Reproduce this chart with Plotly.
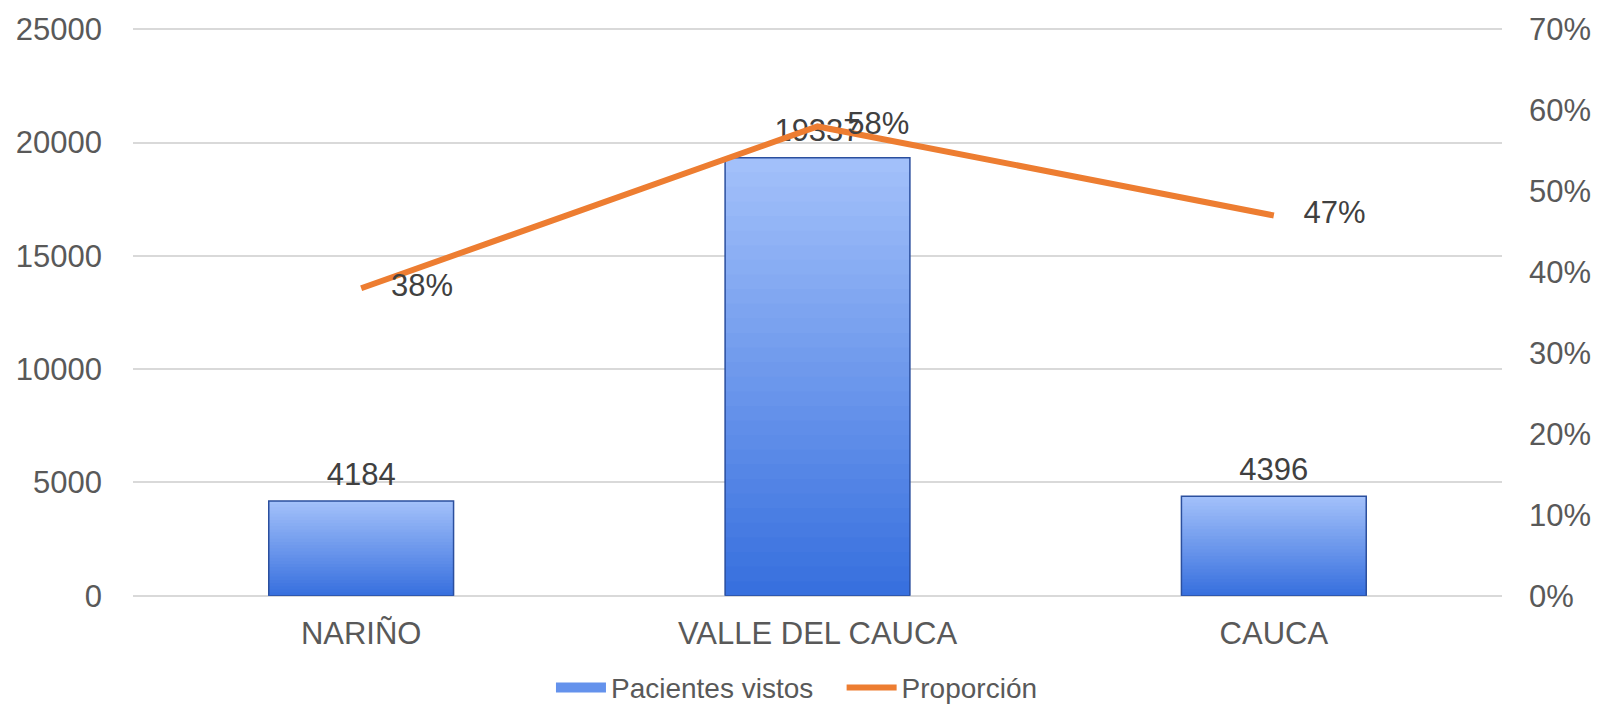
import plotly.graph_objects as go

# Data
departamentos = ["NARIÑO", "VALLE DEL CAUCA", "CAUCA"]
pacientes_vistos = [4184, 19337, 4396]
proporcion = [0.38, 0.58, 0.47]

left_ticks = [0, 5000, 10000, 15000, 20000, 25000]
right_ticks = [0, 0.1, 0.2, 0.3, 0.4, 0.5, 0.6, 0.7]

FONT = "Liberation Sans, Arial, sans-serif"
AXIS_GREY = "#595959"
LABEL_GREY = "#404040"
ORANGE = "#ED7D31"

top_rgb = (162, 192, 250)
bottom_rgb = (56, 112, 222)

fig = go.Figure()

# Vertical gradient inside each bar: stacked overlay layers, tallest (lightest) first
n_layers = 30
for k in range(n_layers):
    frac = 1 - k / n_layers
    t = k / (n_layers - 1)
    r, g, b = (round(top_rgb[i] + (bottom_rgb[i] - top_rgb[i]) * t) for i in range(3))
    fig.add_trace(go.Bar(
        x=departamentos,
        y=[v * frac for v in pacientes_vistos],
        marker=dict(color=f"rgb({r},{g},{b})", line=dict(width=0)),
        width=0.405,
        name="Pacientes vistos",
        showlegend=False,
        legendgroup="pv",
        hoverinfo="skip",
    ))

# Bar outline
fig.add_trace(go.Bar(
    x=departamentos,
    y=pacientes_vistos,
    marker=dict(color="rgba(0,0,0,0)", line=dict(color="#2b4f9e", width=1.5)),
    width=0.405,
    name="Pacientes vistos",
    showlegend=False,
    legendgroup="pv",
))

# Value labels above the bars
fig.add_trace(go.Scatter(
    x=departamentos,
    y=pacientes_vistos,
    mode="markers+text",
    marker=dict(size=12, color="rgba(0,0,0,0)"),
    text=[str(v) for v in pacientes_vistos],
    textposition="top center",
    textfont=dict(family=FONT, size=31, color=LABEL_GREY),
    showlegend=False,
    legendgroup="pv",
    cliponaxis=False,
    hoverinfo="skip",
))

# Legend key for the bar series (wide blue block)
fig.add_trace(go.Scatter(
    x=[None],
    y=[None],
    mode="lines",
    line=dict(color="rgb(100,146,236)", width=14),
    name="Pacientes vistos\u00a0\u00a0\u00a0",
    legendgroup="pv",
))

# Proportion line on the secondary axis
fig.add_trace(go.Scatter(
    x=departamentos,
    y=proporcion,
    yaxis="y2",
    mode="lines+markers+text",
    name="Proporción",
    line=dict(color=ORANGE, width=6),
    marker=dict(size=46, color="rgba(0,0,0,0)"),
    text=[f"{round(p * 100)}%" for p in proporcion],
    textposition="middle right",
    textfont=dict(family=FONT, size=31, color=LABEL_GREY),
    cliponaxis=False,
))

fig.update_layout(
    width=1603,
    height=709,
    margin=dict(l=133, r=96, t=28, b=113),
    paper_bgcolor="white",
    plot_bgcolor="white",
    barmode="overlay",
    font=dict(family=FONT, size=31, color=AXIS_GREY),
    xaxis=dict(
        showgrid=False,
        showline=False,
        ticks="",
        tickfont=dict(size=31, color=AXIS_GREY),
        ticklabelstandoff=16,
    ),
    yaxis=dict(
        range=[0, 25060],
        tickvals=left_ticks,
        ticktext=[str(v) for v in left_ticks],
        showgrid=True,
        gridcolor="#d9d9d9",
        gridwidth=1.5,
        zeroline=True,
        zerolinecolor="#d9d9d9",
        zerolinewidth=1.5,
        showline=False,
        ticks="",
        tickfont=dict(size=31, color=AXIS_GREY),
        ticklabelstandoff=30,
    ),
    yaxis2=dict(
        range=[0, 0.70168],
        overlaying="y",
        side="right",
        tickvals=right_ticks,
        ticktext=[f"{round(v * 100)}%" for v in right_ticks],
        showgrid=False,
        zeroline=False,
        showline=False,
        ticks="",
        tickfont=dict(size=31, color=AXIS_GREY),
        ticklabelstandoff=26,
    ),
    legend=dict(
        orientation="h",
        x=0.485,
        xanchor="center",
        yref="container",
        y=0.03,
        yanchor="middle",
        font=dict(family=FONT, size=28, color=AXIS_GREY),
        itemwidth=50,
        traceorder="normal",
    ),
    showlegend=True,
)

fig.write_html("out.html")
